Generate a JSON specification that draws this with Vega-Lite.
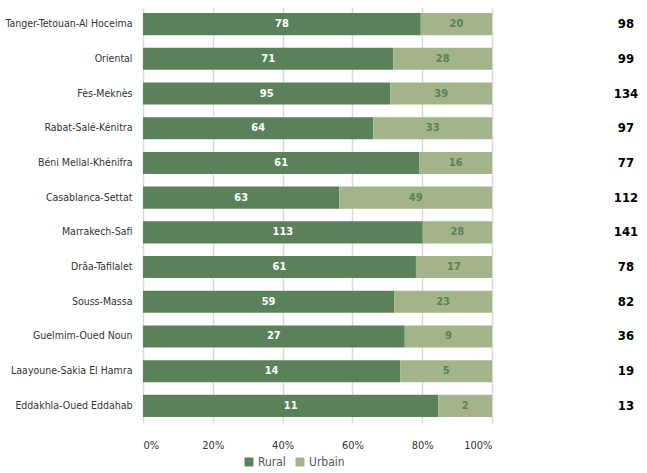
{
  "$schema": "https://vega.github.io/schema/vega-lite/v6.json",
  "width": 349,
  "height": 416,
  "autosize": {"type": "none"},
  "padding": {"left": 143, "top": 7, "right": 155, "bottom": 50},
  "config": {
    "font": "DejaVu Sans Condensed",
    "view": {"stroke": null},
    "axis": {"labelFont": "DejaVu Sans Condensed", "labelColor": "#333333"}
  },
  "data": {
    "values": [
      {"region": "Tanger-Tetouan-Al Hoceima", "type": "Rural", "value": 78},
      {"region": "Tanger-Tetouan-Al Hoceima", "type": "Urbain", "value": 20},
      {"region": "Oriental", "type": "Rural", "value": 71},
      {"region": "Oriental", "type": "Urbain", "value": 28},
      {"region": "Fès-Meknès", "type": "Rural", "value": 95},
      {"region": "Fès-Meknès", "type": "Urbain", "value": 39},
      {"region": "Rabat-Salé-Kénitra", "type": "Rural", "value": 64},
      {"region": "Rabat-Salé-Kénitra", "type": "Urbain", "value": 33},
      {"region": "Béni Mellal-Khénifra", "type": "Rural", "value": 61},
      {"region": "Béni Mellal-Khénifra", "type": "Urbain", "value": 16},
      {"region": "Casablanca-Settat", "type": "Rural", "value": 63},
      {"region": "Casablanca-Settat", "type": "Urbain", "value": 49},
      {"region": "Marrakech-Safi", "type": "Rural", "value": 113},
      {"region": "Marrakech-Safi", "type": "Urbain", "value": 28},
      {"region": "Drâa-Tafilalet", "type": "Rural", "value": 61},
      {"region": "Drâa-Tafilalet", "type": "Urbain", "value": 17},
      {"region": "Souss-Massa", "type": "Rural", "value": 59},
      {"region": "Souss-Massa", "type": "Urbain", "value": 23},
      {"region": "Guelmim-Oued Noun", "type": "Rural", "value": 27},
      {"region": "Guelmim-Oued Noun", "type": "Urbain", "value": 9},
      {"region": "Laayoune-Sakia El Hamra", "type": "Rural", "value": 14},
      {"region": "Laayoune-Sakia El Hamra", "type": "Urbain", "value": 5},
      {"region": "Eddakhla-Oued Eddahab", "type": "Rural", "value": 11},
      {"region": "Eddakhla-Oued Eddahab", "type": "Urbain", "value": 2}
    ]
  },
  "layer": [
    {
      "transform": [
        {"stack": "value", "groupby": ["region"], "sort": [{"field": "type"}], "as": ["v0", "v1"], "offset": "normalize"},
        {"calculate": "(datum.v0+datum.v1)/2", "as": "mid"}
      ],
      "layer": [
        {
          "mark": {"type": "bar"},
          "encoding": {
            "y": {
              "field": "region", "type": "nominal", "sort": null,
              "scale": {"paddingInner": 0.364, "paddingOuter": 0.175},
              "axis": {"title": null, "ticks": false, "domain": false, "labelPadding": 11, "labelFontSize": 10.5, "labelLimit": 200}
            },
            "x": {
              "field": "v0", "type": "quantitative",
              "scale": {"domain": [0, 1], "nice": false},
              "axis": {"title": null, "format": ".0%", "values": [0, 0.2, 0.4, 0.6, 0.8, 1], "ticks": false, "domain": false, "labelPadding": 16, "labelFontSize": 11, "gridColor": "#d9d9d9", "gridWidth": 1.5}
            },
            "x2": {"field": "v1"},
            "color": {
              "field": "type", "type": "nominal",
              "scale": {"domain": ["Rural", "Urbain"], "range": ["#5a8159", "#a3b38a"]},
              "legend": {
                "title": null, "orient": "none", "direction": "horizontal",
                "legendX": 100, "legendY": 449,
                "symbolType": "square", "symbolSize": 80, "symbolStrokeWidth": 0,
                "labelFontSize": 12, "labelColor": "#555555", "labelFont": "DejaVu Sans Condensed",
                "columnPadding": 8, "labelOffset": 3
              }
            }
          }
        },
        {
          "mark": {"type": "text", "fontWeight": "bold", "fontSize": 11, "font": "DejaVu Sans Condensed"},
          "encoding": {
            "y": {"field": "region", "type": "nominal", "sort": null},
            "x": {"field": "mid", "type": "quantitative"},
            "text": {"field": "value", "type": "quantitative"},
            "color": {
              "field": "type", "type": "nominal",
              "scale": {"domain": ["Rural", "Urbain"], "range": ["#ffffff", "#5a8159"]},
              "legend": null
            }
          }
        }
      ],
      "resolve": {"scale": {"color": "independent"}}
    },
    {
      "transform": [
        {"aggregate": [{"op": "sum", "field": "value", "as": "total"}], "groupby": ["region"]}
      ],
      "mark": {"type": "text", "fontWeight": "bold", "fontSize": 13, "font": "DejaVu Sans Condensed", "color": "#000000", "dx": 134, "align": "center"},
      "encoding": {
        "y": {"field": "region", "type": "nominal", "sort": null},
        "x": {"datum": 1},
        "text": {"field": "total", "type": "quantitative"}
      }
    }
  ],
  "resolve": {"scale": {"color": "independent"}}
}
